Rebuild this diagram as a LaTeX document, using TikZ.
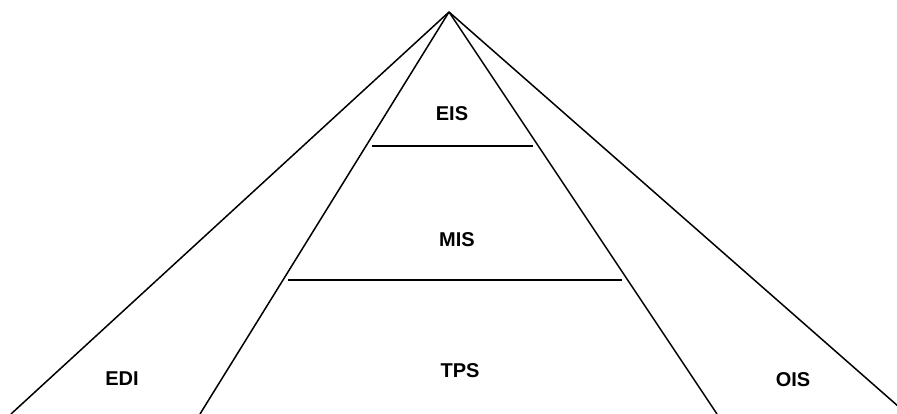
\documentclass[tikz,border=0pt]{standalone}
\usepackage{fontspec}
\setmainfont{Liberation Sans}
\usetikzlibrary{calc}

\begin{document}
\begin{tikzpicture}[x=1pt, y=-1pt, line width=1.5pt,
  lbl/.style={font=\fontsize{20}{22}\selectfont\bfseries, inner sep=0pt}]
\useasboundingbox (0,0) rectangle (897,414);
\coordinate (top) at (449,12);
\coordinate (lo) at (11,414);
\coordinate (li) at (200,414);
\coordinate (ri) at (717,414);
\coordinate (ro) at (907,414);
\coordinate (e1) at (372,146);
\coordinate (e2) at (533,146);
\coordinate (m1) at (288,280);
\coordinate (m2) at (622,280);
\node[lbl] (eis) at (452,114){EIS};
\node[lbl] (mis) at (457,240){MIS};
\node[lbl] (tps) at (460,371){TPS};
\node[lbl] (edi) at (122,379){EDI};
\node[lbl] (ois) at (793,380){OIS};
\begin{scope}
\clip (0,0) rectangle (897,414);
\draw (top)--(lo);
\draw (top)--(li);
\draw (top)--(ri);
\draw (top)--(ro);
\end{scope}
\draw (e1)--(e2);
\draw (m1)--(m2);
\end{tikzpicture}
\end{document}
